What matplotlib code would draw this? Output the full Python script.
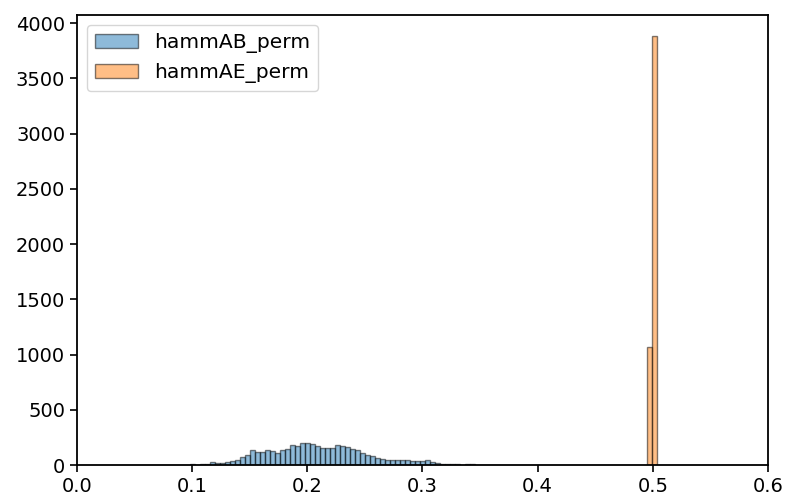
import numpy as np
import matplotlib
matplotlib.use("Agg")
import matplotlib.pyplot as plt

# blue histogram: counts per bin, bins start at 0.0981 with width 0.00434
ab_start = 0.0981
ab_width = 0.00434
ab_counts = [8, 5, 15, 12, 30, 20, 22, 28, 35, 50, 70, 95, 135, 120, 118,
             135, 130, 111, 140, 150, 186, 177, 204, 204, 195, 171, 160, 153,
             160, 186, 171, 165, 150, 140, 114, 96, 84, 69, 60, 48, 48, 48,
             48, 48, 42, 42, 42, 50, 27, 24, 15, 15, 12, 8, 5, 10, 8, 6, 4,
             3, 5, 2]

# orange histogram: two bins
ae_edges = [0.4953, 0.4996, 0.5039]
ae_counts = [1070, 3880]

ab_edges = ab_start + ab_width * np.arange(len(ab_counts) + 1)
ab_centers = (ab_edges[:-1] + ab_edges[1:]) / 2
ae_centers = [(ae_edges[0] + ae_edges[1]) / 2, (ae_edges[1] + ae_edges[2]) / 2]

# everything looks scaled up ~1.4x from the defaults
plt.rcParams['font.size'] = 14
plt.rcParams['axes.linewidth'] = 1.3
plt.rcParams['xtick.major.size'] = 5
plt.rcParams['ytick.major.size'] = 5
plt.rcParams['xtick.major.width'] = 1.2
plt.rcParams['ytick.major.width'] = 1.2

fig = plt.figure(figsize=(7.86, 4.97), dpi=100)
ax = fig.add_subplot(111)
fig.subplots_adjust(left=0.098, right=0.977, bottom=0.064, top=0.970)

ax.hist(ab_centers, bins=ab_edges, weights=ab_counts, alpha=0.5,
        edgecolor='black', linewidth=1.0, label='hammAB_perm')
ax.hist(ae_centers, bins=ae_edges, weights=ae_counts, alpha=0.5,
        edgecolor='black', linewidth=1.0, label='hammAE_perm')

ax.set_xlim(0, 0.6)
ax.legend(loc='upper left', fontsize=14.6, handlelength=2.1)

plt.savefig('out.png', dpi=100)
